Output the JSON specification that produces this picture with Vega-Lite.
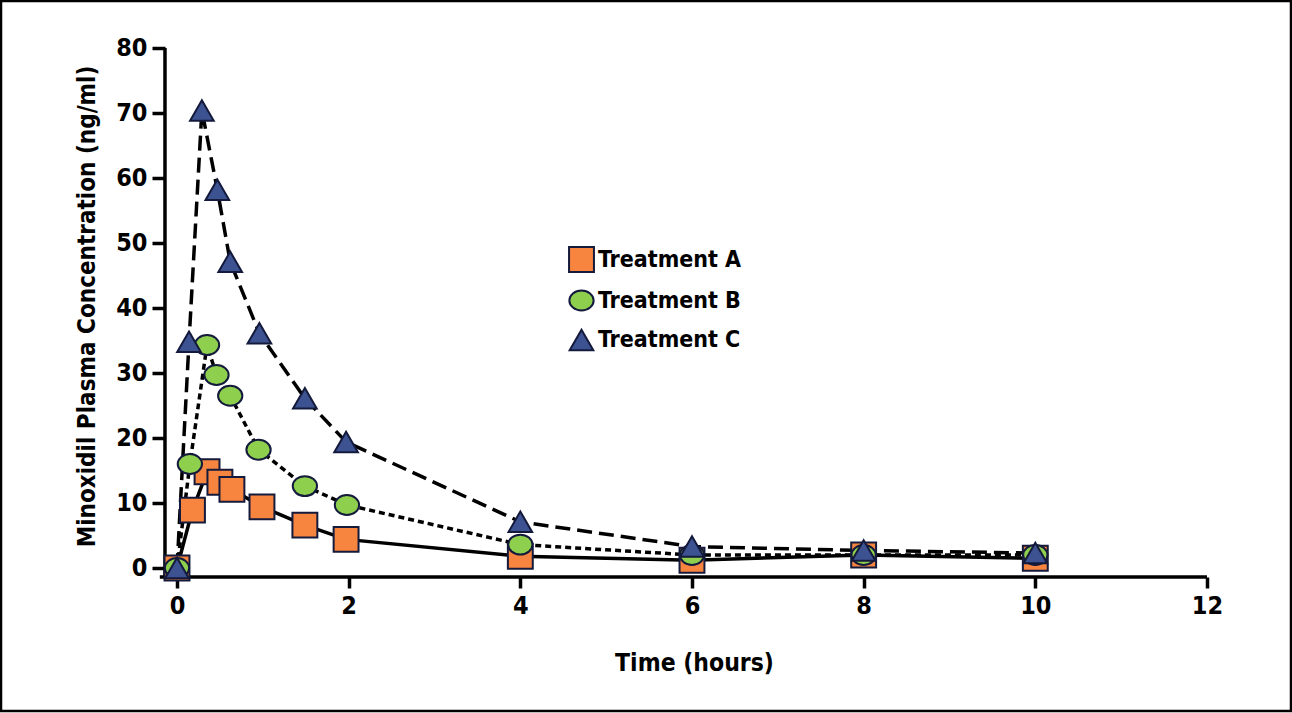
{
  "$schema": "https://vega.github.io/schema/vega-lite/v6.json",
  "width": 1290,
  "height": 710,
  "autosize": "none",
  "padding": {"left": 1, "top": 1, "right": 1, "bottom": 2},
  "background": "white",
  "config": {
    "view": {"stroke": "black", "strokeWidth": 2.5},
    "font": "DejaVu Sans Condensed"
  },
  "datasets": {
    "pk": [
      {"treatment": "Treatment A", "time": 0, "conc": 0},
      {"treatment": "Treatment A", "time": 0.18, "conc": 8.9},
      {"treatment": "Treatment A", "time": 0.35, "conc": 14.8},
      {"treatment": "Treatment A", "time": 0.5, "conc": 13.2},
      {"treatment": "Treatment A", "time": 0.64, "conc": 12.1},
      {"treatment": "Treatment A", "time": 0.99, "conc": 9.4},
      {"treatment": "Treatment A", "time": 1.49, "conc": 6.6},
      {"treatment": "Treatment A", "time": 1.97, "conc": 4.4},
      {"treatment": "Treatment A", "time": 4, "conc": 1.8},
      {"treatment": "Treatment A", "time": 6, "conc": 1.2},
      {"treatment": "Treatment A", "time": 8, "conc": 2.0},
      {"treatment": "Treatment A", "time": 10, "conc": 1.5},
      {"treatment": "Treatment B", "time": 0, "conc": 0},
      {"treatment": "Treatment B", "time": 0.15, "conc": 16.0},
      {"treatment": "Treatment B", "time": 0.35, "conc": 34.3},
      {"treatment": "Treatment B", "time": 0.46, "conc": 29.7},
      {"treatment": "Treatment B", "time": 0.62, "conc": 26.5},
      {"treatment": "Treatment B", "time": 0.95, "conc": 18.2},
      {"treatment": "Treatment B", "time": 1.49, "conc": 12.6},
      {"treatment": "Treatment B", "time": 1.98, "conc": 9.7},
      {"treatment": "Treatment B", "time": 4, "conc": 3.6},
      {"treatment": "Treatment B", "time": 6, "conc": 2.0},
      {"treatment": "Treatment B", "time": 8, "conc": 2.0},
      {"treatment": "Treatment B", "time": 10, "conc": 2.0},
      {"treatment": "Treatment C", "time": 0, "conc": 0},
      {"treatment": "Treatment C", "time": 0.14, "conc": 34.8},
      {"treatment": "Treatment C", "time": 0.29, "conc": 70.4},
      {"treatment": "Treatment C", "time": 0.47, "conc": 58.2},
      {"treatment": "Treatment C", "time": 0.62, "conc": 47.1},
      {"treatment": "Treatment C", "time": 0.96, "conc": 36.1},
      {"treatment": "Treatment C", "time": 1.49, "conc": 26.1},
      {"treatment": "Treatment C", "time": 1.97, "conc": 19.4},
      {"treatment": "Treatment C", "time": 4, "conc": 7.1},
      {"treatment": "Treatment C", "time": 6, "conc": 3.3},
      {"treatment": "Treatment C", "time": 8, "conc": 2.7},
      {"treatment": "Treatment C", "time": 10, "conc": 2.3}
    ],
    "axislines": [
      {"x": -0.14, "x2": -0.14, "y": 80, "y2": -1.4},
      {"x": -0.2, "x2": 12, "y": -1.4, "y2": -1.4}
    ]
  },
  "layer": [
    {
      "data": {"name": "axislines"},
      "mark": {"type": "rule", "color": "black", "strokeWidth": 3.5},
      "encoding": {
        "x": {"field": "x", "type": "quantitative"},
        "x2": {"field": "x2"},
        "y": {"field": "y", "type": "quantitative"},
        "y2": {"field": "y2"}
      }
    },
    {
      "data": {"name": "pk"},
      "transform": [{"filter": "datum.treatment == 'Treatment A'"}],
      "mark": {"type": "line", "color": "black", "strokeWidth": 3.5},
      "encoding": {
        "x": {"field": "time", "type": "quantitative"},
        "y": {"field": "conc", "type": "quantitative"}
      }
    },
    {
      "data": {"name": "pk"},
      "transform": [{"filter": "datum.treatment == 'Treatment B'"}],
      "mark": {"type": "line", "color": "black", "strokeWidth": 3.5, "strokeDash": [6, 4]},
      "encoding": {
        "x": {"field": "time", "type": "quantitative"},
        "y": {"field": "conc", "type": "quantitative"}
      }
    },
    {
      "data": {"name": "pk"},
      "transform": [{"filter": "datum.treatment == 'Treatment C'"}],
      "mark": {"type": "line", "color": "black", "strokeWidth": 3.5, "strokeDash": [15, 7]},
      "encoding": {
        "x": {"field": "time", "type": "quantitative"},
        "y": {"field": "conc", "type": "quantitative"}
      }
    },
    {
      "data": {"name": "pk"},
      "mark": {"type": "point", "filled": true, "opacity": 1, "stroke": "#141a3c", "strokeWidth": 2},
      "encoding": {
        "x": {
          "field": "time", "type": "quantitative",
          "scale": {"domain": [-2.0505, 12.979], "nice": false, "zero": false},
          "axis": {
            "values": [0, 2, 4, 6, 8, 10, 12], "format": "d", "domain": false, "grid": false,
            "offset": -134, "tickSize": 11, "tickWidth": 3.5, "tickColor": "black",
            "labelFontSize": 25, "labelFontWeight": "bold", "labelColor": "black", "labelPadding": 5,
            "labelFont": "DejaVu Sans Condensed",
            "title": "Time (hours)", "titleFontSize": 24.5, "titleFontWeight": "bold", "titleColor": "black",
            "titleFont": "DejaVu Sans Condensed", "titleX": 693, "titleY": 86, "titleBaseline": "middle"
          }
        },
        "y": {
          "field": "conc", "type": "quantitative",
          "scale": {"domain": [-22.0, 87.23], "nice": false, "zero": false},
          "axis": {
            "values": [0, 10, 20, 30, 40, 50, 60, 70, 80], "format": "d", "domain": false, "grid": false,
            "offset": -164, "tickSize": 13, "tickWidth": 3.5, "tickColor": "black",
            "labelFontSize": 25, "labelFontWeight": "bold", "labelColor": "black", "labelPadding": 5,
            "labelFont": "DejaVu Sans Condensed",
            "title": "Minoxidil Plasma Concentration (ng/ml)", "titleFontSize": 24, "titleFontWeight": "bold",
            "titleColor": "black", "titleFont": "DejaVu Sans Condensed", "titleX": -78, "titleY": 305,
            "titleBaseline": "middle", "titleAngle": -90
          }
        },
        "shape": {
          "field": "treatment", "type": "nominal",
          "scale": {"domain": ["Treatment A", "Treatment B", "Treatment C"],
                    "range": ["square", "M-1,0A1,0.82 0 1,1 1,0A1,0.82 0 1,1 -1,0Z", "triangle-up"]},
          "legend": {
            "orient": "none", "legendX": 567, "legendY": 245, "title": null,
            "labelFontSize": 23, "labelFontWeight": "bold", "labelColor": "black",
            "labelFont": "DejaVu Sans Condensed", "rowPadding": 10, "labelOffset": 3,
            "symbolStrokeColor": "#141a3c", "symbolStrokeWidth": 2, "symbolOpacity": 1
          }
        },
        "fill": {
          "field": "treatment", "type": "nominal",
          "scale": {"domain": ["Treatment A", "Treatment B", "Treatment C"], "range": ["#f7843f", "#8fcf4e", "#3d5291"]}
        },
        "size": {
          "field": "treatment", "type": "nominal",
          "scale": {"domain": ["Treatment A", "Treatment B", "Treatment C"], "range": [620, 560, 900]}
        }
      }
    }
  ]
}
